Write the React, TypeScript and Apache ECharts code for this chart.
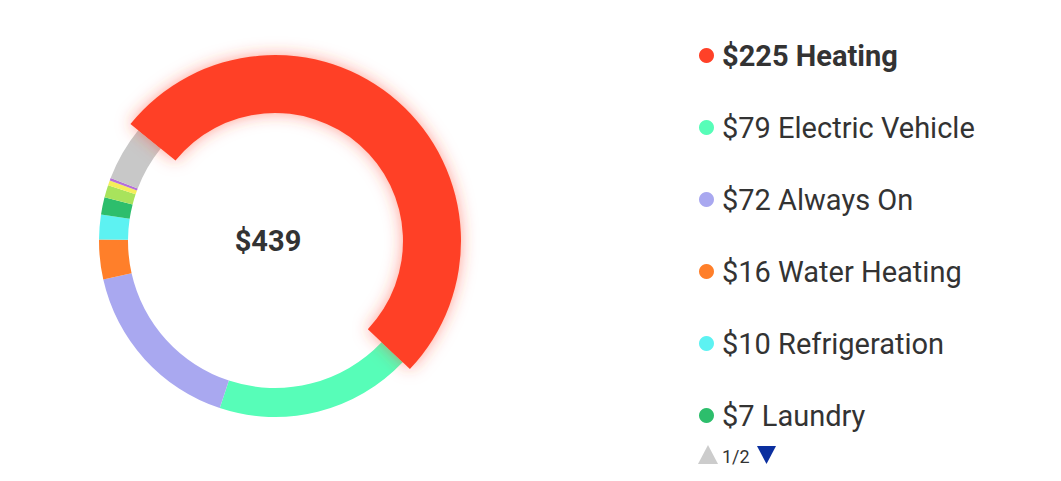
import React, { useEffect, useRef } from "react";
import * as echarts from "echarts";

const categories = [
  "Heating",
  "Electric Vehicle",
  "Always On",
  "Water Heating",
  "Refrigeration",
  "Laundry",
  "Cooking",
  "Lighting",
  "Entertainment",
  "Other",
];
const values = [225, 79, 72, 16, 10, 7, 5, 2, 1, 22];
const colors = [
  "#FF4128",
  "#57FDB8",
  "#A9A8F0",
  "#FF7F2A",
  "#5DF2F2",
  "#2DBE6C",
  "#A8E35C",
  "#F5EE5A",
  "#B56FD8",
  "#C8C8C8",
];
const totalLabel = "$439";
const highlighted = "Heating";
const legendPageSize = 6;
const pageLabel = "1/2";

export default function App() {
  const ref = useRef<HTMLDivElement>(null);
  useEffect(() => {
    if (!ref.current) return;
    const chart = echarts.init(ref.current, null, { renderer: "svg" });
    const baseData = categories.map((name, i) => ({
      name,
      value: values[i],
      itemStyle: { color: colors[i] },
    }));
    const hiData = categories.map((name, i) => ({
      name,
      value: values[i],
      itemStyle:
        name === highlighted
          ? {
              color: colors[i],
              shadowBlur: 16,
              shadowColor: "rgba(255,65,40,0.5)",
            }
          : { color: colors[i], opacity: 0 },
    }));
    const valueOf: Record<string, number> = {};
    categories.forEach((c, i) => (valueOf[c] = values[i]));
    chart.setOption({
      animation: false,
      legend: {
        orient: "vertical",
        left: 694,
        top: 36,
        itemWidth: 15,
        itemHeight: 15,
        itemGap: 43,
        icon: "circle",
        selectedMode: false,
        data: categories.slice(0, legendPageSize),
        formatter: (name: string) =>
          name === highlighted
            ? `{b|$${valueOf[name]} ${name}}`
            : `{n|$${valueOf[name]} ${name}}`,
        textStyle: {
          fontFamily: "Roboto",
          color: "#333",
          fontSize: 29,
          padding: [0, 0, 0, 3],
          rich: {
            n: { fontFamily: "Roboto", fontSize: 29, color: "#333" },
            b: {
              fontFamily: "Roboto",
              fontSize: 29,
              color: "#333",
              fontWeight: "bold",
            },
          },
        },
      },
      graphic: [
        {
          type: "text",
          x: 268,
          y: 241,
          style: {
            text: totalLabel,
            font: "bold 29px Roboto",
            fill: "#333",
            align: "center",
            verticalAlign: "middle",
          },
        },
        {
          type: "polygon",
          shape: {
            points: [
              [698, 464],
              [708, 445],
              [718, 464],
            ],
          },
          style: { fill: "#CCCCCC" },
        },
        {
          type: "text",
          x: 722,
          y: 456,
          style: {
            text: pageLabel,
            font: "18px Roboto",
            fill: "#333",
            align: "left",
            verticalAlign: "middle",
          },
        },
        {
          type: "polygon",
          shape: {
            points: [
              [757, 446],
              [776, 446],
              [766.5, 464],
            ],
          },
          style: { fill: "#0B2F9F" },
        },
      ],
      series: [
        {
          type: "pie",
          radius: [147, 176],
          center: [275, 241],
          startAngle: 141,
          label: { show: false },
          labelLine: { show: false },
          silent: true,
          data: baseData,
        },
        {
          type: "pie",
          radius: [128, 186],
          center: [275, 241],
          startAngle: 141,
          label: { show: false },
          labelLine: { show: false },
          silent: true,
          legendHoverLink: false,
          data: hiData,
        },
      ],
    });
    return () => chart.dispose();
  }, []);
  return (
    <div
      ref={ref}
      style={{ position: "absolute", left: 0, top: 0, width: 1061, height: 481 }}
    />
  );
}
